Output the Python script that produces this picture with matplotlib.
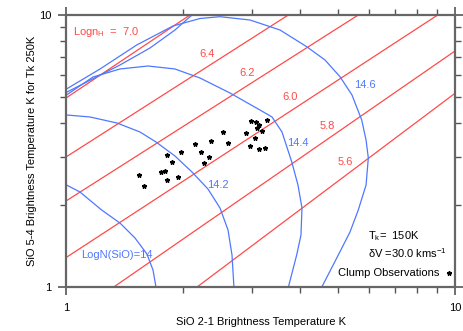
import numpy as np
import matplotlib
matplotlib.use("Agg")
import matplotlib.pyplot as plt
from matplotlib.ticker import NullFormatter

plt.rcParams['font.family'] = ['Liberation Sans', 'DejaVu Sans']
plt.rcParams['mathtext.default'] = 'regular'

# ---- density lines, log n_H (T21, T54 at each end) ----
nh_labels = ["7.0", "6.4", "6.2", "6.0", "5.8", "5.6"]
nh_x0 = [1.0, 1.0, 1.0, 1.0, 1.320, 2.163]
nh_y0 = [4.97, 3.018, 2.080, 1.289, 1.0, 1.0]
nh_x1 = [2.079, 3.724, 5.637, 9.026, 10.0, 10.0]
nh_y1 = [10.0, 10.0, 10.0, 10.0, 7.375, 5.158]

# ---- column density curves, log N(SiO) ----
n14_x = [1.0, 1.083, 1.232, 1.373, 1.501, 1.611, 1.670, 1.700]
n14_y = [2.375, 2.239, 1.922, 1.722, 1.517, 1.325, 1.157, 1.0]

n142_x = [1.0, 1.149, 1.349, 1.546, 1.700, 1.902, 2.104, 2.313, 2.484, 2.605, 2.667, 2.698]
n142_y = [4.294, 4.222, 4.012, 3.718, 3.417, 3.035, 2.651, 2.296, 1.955, 1.623, 1.314, 1.0]

n144_x = [1.0, 1.170, 1.373, 1.621, 1.902, 2.206, 2.636, 3.148, 3.381, 3.587, 3.799,
          3.943, 4.038, 4.014, 3.913, 3.724]
n144_y = [5.084, 5.920, 6.335, 6.497, 6.335, 5.870, 5.170, 4.478, 4.222, 3.718, 2.892,
          2.375, 1.955, 1.556, 1.314, 1.0]

n146_x = [1.0, 1.220, 1.516, 1.880, 2.206, 2.484, 2.968, 3.545, 4.152, 4.628, 5.058,
          5.431, 5.753, 5.903, 5.983, 5.903, 5.637, 5.367, 5.007, 4.538]
n146_y = [5.349, 6.335, 7.759, 9.112, 9.708, 9.857, 9.585, 8.808, 7.649, 6.836, 5.935,
          5.084, 4.115, 3.475, 2.985, 2.375, 1.922, 1.596, 1.314, 1.0]

n148_x = [1.0, 1.373, 1.640, 1.902, 2.104]
n148_y = [5.201, 6.553, 7.564, 8.808, 10.0]

# ---- clump observations ----
obs_t21 = [1.537, 1.586, 1.751, 1.789, 1.811, 1.817, 1.868, 1.932, 1.971, 2.145,
           2.223, 2.255, 2.323, 2.355, 2.528, 2.600, 2.897, 2.968, 2.985, 3.062,
           3.075, 3.093, 3.124, 3.124, 3.186, 3.243, 3.276]
obs_t54 = [2.585, 2.355, 2.644, 2.667, 2.471, 3.053, 2.892, 2.548, 3.131, 3.351,
           3.131, 2.868, 3.010, 3.445, 3.718, 3.388, 3.696, 3.303, 4.080, 3.543,
           4.046, 3.856, 3.935, 3.228, 3.750, 3.256, 4.104]

red = '#ff4a4a'
blue = '#4f78ff'
fs = 8

fig = plt.figure(figsize=(4.63, 3.31), dpi=100)
ax = fig.add_axes([0.1436, 0.132, 0.8391, 0.8227])
ax.set_xscale('log')
ax.set_yscale('log')
ax.set_xlim(1, 10)
ax.set_ylim(1, 10)

for i in range(len(nh_labels)):
    ax.plot([nh_x0[i], nh_x1[i]], [nh_y0[i], nh_y1[i]], color=red, lw=0.9)

for cx, cy in [(n14_x, n14_y), (n142_x, n142_y), (n144_x, n144_y),
               (n146_x, n146_y), (n148_x, n148_y)]:
    ax.plot(cx, cy, color=blue, lw=0.9)

ax.plot(obs_t21, obs_t54, ls='none', marker='*', ms=3.3, color='black')

# labels for the density lines
nh_lx = [1.041, 2.296, 2.910, 3.760, 4.703, 5.211]
nh_ly = [8.641, 7.172, 6.140, 5.012, 3.912, 2.878]
ax.text(nh_lx[0], nh_ly[0], r'Logn$_{H}$  =  ' + nh_labels[0], color=red,
        fontsize=fs, ha='left', va='center')
for i in range(1, len(nh_labels)):
    ax.text(nh_lx[i], nh_ly[i], nh_labels[i], color=red, fontsize=fs,
            ha='center', va='center')

# labels for the column density curves
ax.text(1.088, 1.314, 'LogN(SiO)=14', color=blue, fontsize=fs, ha='left', va='center')
ax.text(2.458, 2.375, '14.2', color=blue, fontsize=fs, ha='center', va='center')
ax.text(3.951, 3.380, '14.4', color=blue, fontsize=fs, ha='center', va='center')
ax.text(5.867, 5.534, '14.6', color=blue, fontsize=fs, ha='center', va='center')

ax.text(0.777, 0.188, r'T$_k$=  150K', transform=ax.transAxes, fontsize=fs, va='center')
ax.text(0.777, 0.127, r'$\delta$V =30.0 kms$^{-1}$', transform=ax.transAxes,
        fontsize=fs, va='center')
ax.text(0.961, 0.0536, 'Clump Observations', transform=ax.transAxes, fontsize=fs,
        ha='right', va='center')
ax.plot([0.985], [0.0536], transform=ax.transAxes, marker='*', ms=3.3, color='black')

ax.set_xlabel('SiO 2-1 Brightness Temperature K', fontsize=fs, labelpad=3)
ax.set_ylabel('SiO 5-4 Brightness Temperature K for Tk 250K', fontsize=fs, labelpad=1)

ax.set_xticks([1, 10])
ax.set_xticklabels(['1', '10'])
ax.set_yticks([1, 10])
ax.set_yticklabels(['1', '10'])
ax.xaxis.set_minor_formatter(NullFormatter())
ax.yaxis.set_minor_formatter(NullFormatter())
ax.tick_params(which='both', direction='out', top=True, right=True,
               colors='#555555', labelcolor='black', labelsize=fs)
ax.tick_params(which='major', length=6, width=1.2)
ax.tick_params(axis='x', which='major', pad=5)
ax.tick_params(axis='y', which='major', pad=5)
ax.tick_params(which='minor', length=4, width=1.0)
for s in ax.spines.values():
    s.set_color('#666666')
    s.set_linewidth(1.6)

plt.savefig("out.png", dpi=100)
